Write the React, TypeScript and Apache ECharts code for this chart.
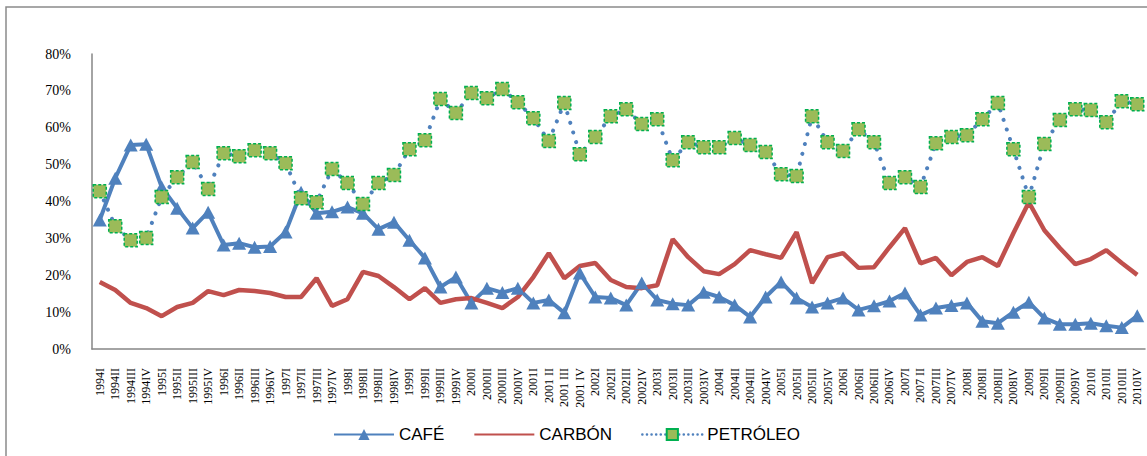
import React, { useEffect, useRef } from "react";
import * as echarts from "echarts";

// Quarterly share (%) of each export product, 1994I – 2010IV
const years = [1994, 1995, 1996, 1997, 1998, 1999, 2000, 2001, 2002, 2003, 2004, 2005, 2006, 2007, 2008, 2009, 2010];
const quarters = ["I", "II", "III", "IV"];
const spacedQuarters = ["2001 II", "2001 III", "2001 IV", "2007 II"];
const categories: string[] = years.flatMap((y) =>
  quarters.map((q) => {
    const spaced = `${y} ${q}`;
    return spacedQuarters.includes(spaced) ? spaced : `${y}${q}`;
  })
);

const cafe = [
  35.0, 46.3, 55.3, 55.5, 43.9, 38.2, 32.8, 37.1, 28.2, 28.7, 27.6, 27.8, 31.7, 42.5, 36.8, 37.2,
  38.5, 36.8, 32.5, 34.4, 29.5, 24.7, 16.8, 19.5, 12.5, 16.5, 15.3, 16.5, 12.5, 13.3, 9.8, 20.6,
  14.1, 13.8, 11.9, 17.9, 13.3, 12.3, 11.9, 15.4, 14.1, 11.9, 8.7, 14.1, 18.2, 13.8, 11.4, 12.5,
  13.8, 10.6, 11.7, 13.0, 15.2, 9.2, 11.1, 11.8, 12.5, 7.5, 7.0, 10.0, 12.7, 8.4, 6.7, 6.7,
  7.0, 6.3, 5.8, 9.0,
];

const carbon = [
  18.2, 16.0, 12.5, 11.1, 8.9, 11.4, 12.5, 15.7, 14.6, 16.0, 15.7, 15.2, 14.1, 14.1, 19.2, 11.7,
  13.5, 20.9, 19.8, 16.8, 13.5, 16.5, 12.5, 13.5, 13.8, 12.5, 11.1, 14.1, 19.5, 26.0, 19.2, 22.5,
  23.3, 18.7, 16.8, 16.5, 17.3, 29.8, 24.9, 21.1, 20.3, 23.0, 26.8, 25.7, 24.7, 31.7, 17.9, 24.9,
  26.0, 22.0, 22.2, 27.6, 32.8, 23.2, 24.7, 20.0, 23.6, 24.9, 22.5, 31.4, 39.8, 32.2, 27.4, 23.0,
  24.4, 26.8, 23.3, 20.1,
];

const petroleo = [
  42.8, 33.3, 29.5, 30.1, 41.2, 46.6, 50.7, 43.4, 53.1, 52.3, 53.9, 53.1, 50.4, 40.9, 39.8, 48.8,
  45.0, 39.3, 45.0, 47.2, 54.2, 56.6, 67.8, 64.0, 69.4, 68.0, 70.5, 66.9, 62.6, 56.4, 66.7, 52.8,
  57.5, 63.1, 65.0, 61.0, 62.3, 51.2, 56.1, 54.7, 54.7, 57.2, 55.3, 53.4, 47.4, 46.9, 63.1, 56.1,
  53.7, 59.6, 56.1, 45.0, 46.6, 43.9, 55.8, 57.5, 58.0, 62.3, 66.7, 54.2, 41.2, 55.6, 62.1, 65.0,
  64.8, 61.5, 67.2, 66.4,
];

const BLUE = "#4F81BD";
const RED = "#C0504D";
const GREEN = "#9BBB59";
const GREEN_EDGE = "#00B050";
const AXIS_GRAY = "#868686";

export default function App() {
  const ref = useRef<HTMLDivElement>(null);

  useEffect(() => {
    if (!ref.current) return;
    const chart = echarts.init(ref.current, undefined, { renderer: "svg" });
    chart.setOption({
      animation: false,
      backgroundColor: "#ffffff",
      graphic: [
        {
          type: "rect",
          shape: { x: 6, y: 7, width: 1160, height: 470 },
          style: { fill: "none", stroke: "#8a8a8a", lineWidth: 1.5 },
          silent: true,
        },
      ],
      grid: { left: 92, right: 2, top: 54, bottom: 107, containLabel: false },
      legend: {
        left: 328,
        top: 421,
        itemWidth: 60,
        itemHeight: 14,
        itemGap: 29,
        textStyle: { fontFamily: "Liberation Sans", fontSize: 17, color: "#000" },
        data: [
          { name: "CAFÉ" },
          { name: "CARBÓN", itemStyle: { opacity: 0 } },
          { name: "PETRÓLEO", lineStyle: { width: 2.5, type: [0.1, 4.5], cap: "round" } },
        ],
      },
      xAxis: {
        type: "category",
        data: categories,
        boundaryGap: true,
        axisLine: { lineStyle: { color: AXIS_GRAY, width: 1.5 } },
        axisTick: { show: false },
        axisLabel: {
          interval: 0,
          rotate: 90,
          margin: 19,
          fontFamily: "Liberation Serif",
          fontSize: 12,
          color: "#000",
        },
      },
      yAxis: {
        type: "value",
        min: 0,
        max: 80,
        interval: 10,
        splitLine: { show: false },
        axisLine: { show: true, lineStyle: { color: AXIS_GRAY, width: 1.5 } },
        axisTick: { show: false },
        axisLabel: {
          formatter: "{value}%",
          margin: 21,
          fontFamily: "Liberation Serif",
          fontSize: 14,
          color: "#000",
        },
      },
      series: [
        {
          name: "CAFÉ",
          type: "line",
          data: cafe,
          symbol: "triangle",
          symbolSize: [14, 13],
          lineStyle: { color: BLUE, width: 4 },
          itemStyle: { color: BLUE },
        },
        {
          name: "CARBÓN",
          type: "line",
          data: carbon,
          symbol: "none",
          lineStyle: { color: RED, width: 4.5 },
          itemStyle: { color: RED },
        },
        {
          name: "PETRÓLEO",
          type: "line",
          data: petroleo,
          symbol: "rect",
          symbolSize: 13,
          lineStyle: { color: BLUE, width: 4, type: [0.1, 10], cap: "round" },
          itemStyle: {
            color: GREEN,
            borderColor: GREEN_EDGE,
            borderWidth: 1.5,
            borderType: [3, 2],
          },
        },
      ],
    });
    return () => chart.dispose();
  }, []);

  return (
    <div
      ref={ref}
      style={{ position: "absolute", left: 0, top: 0, width: 1147, height: 456 }}
    />
  );
}
